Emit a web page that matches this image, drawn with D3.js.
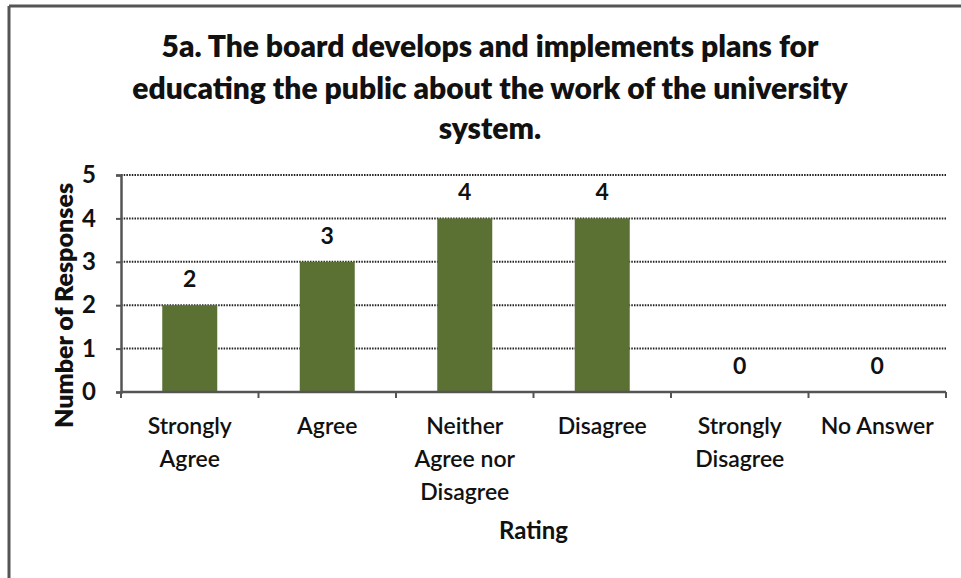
<!DOCTYPE html>
<html><head><meta charset="utf-8">
<script src="https://cdn.jsdelivr.net/npm/d3@7"></script>
<style>
html,body{margin:0;padding:0;background:#fff;}
svg{display:block;}
text{font-family:Lato,"Open Sans",sans-serif;fill:#111;}
</style></head>
<body>
<script>
const titleLines = ["5a. The board develops and implements plans for", "educating the public about the work of the university", "system."];
const categories = [["Strongly","Agree"],["Agree"],["Neither","Agree nor","Disagree"],["Disagree"],["Strongly","Disagree"],["No Answer"]];
const values = [2, 3, 4, 4, 0, 0];
const yTicks = [0, 1, 2, 3, 4, 5];
const yLabel = "Number of Responses";
const xLabel = "Rating";

const W = 961, H = 578;
const svg = d3.select("body").append("svg").attr("width", W).attr("height", H);

// border
svg.append("line").attr("x1", 9).attr("x2", W).attr("y1", 6).attr("y2", 6).attr("stroke", "#555").attr("stroke-width", 3);
svg.append("line").attr("x1", 9).attr("x2", 9).attr("y1", 6).attr("y2", H).attr("stroke", "#555").attr("stroke-width", 3);

const plot = {left: 121, right: 946, top: 175, bottom: 392};
const keys = categories.map(c => c.join(" "));
const x = d3.scaleBand().domain(keys).range([plot.left, plot.right]).paddingInner(0.6).paddingOuter(0.3);
const xb = d3.scaleBand().domain(keys).range([plot.left, plot.right]);
const y = d3.scaleLinear().domain([0, 5]).range([plot.bottom, plot.top]);

// title
const tBase = [57, 99, 139];
svg.append("g").selectAll("text").data(titleLines).join("text")
  .attr("x", 490).attr("y", (d, i) => tBase[i])
  .attr("text-anchor", "middle").attr("font-size", 30).attr("font-weight", 800)
  .text(d => d);

// gridlines
svg.append("g").selectAll("line").data(yTicks.filter(t => t > 0)).join("line")
  .attr("x1", plot.left).attr("x2", plot.right + 1)
  .attr("y1", d => y(d)).attr("y2", d => y(d))
  .attr("stroke", "#222").attr("stroke-width", 2).attr("stroke-dasharray", "1.5,1.2");

// bars
svg.append("g").selectAll("rect").data(values).join("rect")
  .attr("x", (d, i) => x(keys[i])).attr("width", x.bandwidth())
  .attr("y", d => y(d)).attr("height", d => y(0) - y(d))
  .attr("fill", "#5b7134");

// value labels
svg.append("g").selectAll("text").data(values).join("text")
  .attr("x", (d, i) => x(keys[i]) + x.bandwidth() / 2)
  .attr("y", d => y(d) - 18)
  .attr("text-anchor", "middle").attr("font-size", 23).attr("font-weight", 700)
  .text(d => d);

// y axis
const yAxis = d3.axisLeft(y).tickValues(yTicks).tickSize(5).tickPadding(20).tickFormat(d3.format("d"));
const gy = svg.append("g").attr("transform", `translate(${plot.left},0)`).call(yAxis);
gy.select(".domain").attr("stroke", "#555").attr("stroke-width", 2.5);
gy.selectAll(".tick line").attr("stroke", "#555").attr("stroke-width", 2);
gy.selectAll(".tick text").attr("font-size", 24).attr("font-weight", 700)
  .attr("font-family", "Lato, sans-serif").attr("fill", "#111");

// x axis
svg.append("line").attr("x1", plot.left).attr("x2", plot.right).attr("y1", plot.bottom).attr("y2", plot.bottom)
  .attr("stroke", "#555").attr("stroke-width", 2.5);
const xt = keys.map(k => xb(k)).concat([plot.right]);
svg.append("g").selectAll("line").data(xt).join("line")
  .attr("x1", d => d).attr("x2", d => d).attr("y1", plot.bottom).attr("y2", plot.bottom + 6)
  .attr("stroke", "#555").attr("stroke-width", 2);

// category labels
const cg = svg.append("g").selectAll("text").data(categories).join("text")
  .attr("x", (d, i) => xb(keys[i]) + xb.bandwidth() / 2)
  .attr("y", 434).attr("text-anchor", "middle").attr("font-size", 23).attr("font-weight", 600);
cg.selectAll("tspan").data(d => d).join("tspan")
  .attr("x", function() { return this.parentNode.getAttribute("x"); })
  .attr("dy", (d, i) => i === 0 ? 0 : 33).text(d => d);

// axis titles
svg.append("text").attr("x", xb(keys[2]) + xb.bandwidth()).attr("y", 539)
  .attr("text-anchor", "middle").attr("font-size", 24).attr("font-weight", 700).text(xLabel);
svg.append("text").attr("transform", `translate(73,${(plot.top + plot.bottom) / 2 + 22}) rotate(-90)`)
  .attr("text-anchor", "middle").attr("font-size", 25).attr("font-weight", 800).text(yLabel);
</script>
</body></html>
